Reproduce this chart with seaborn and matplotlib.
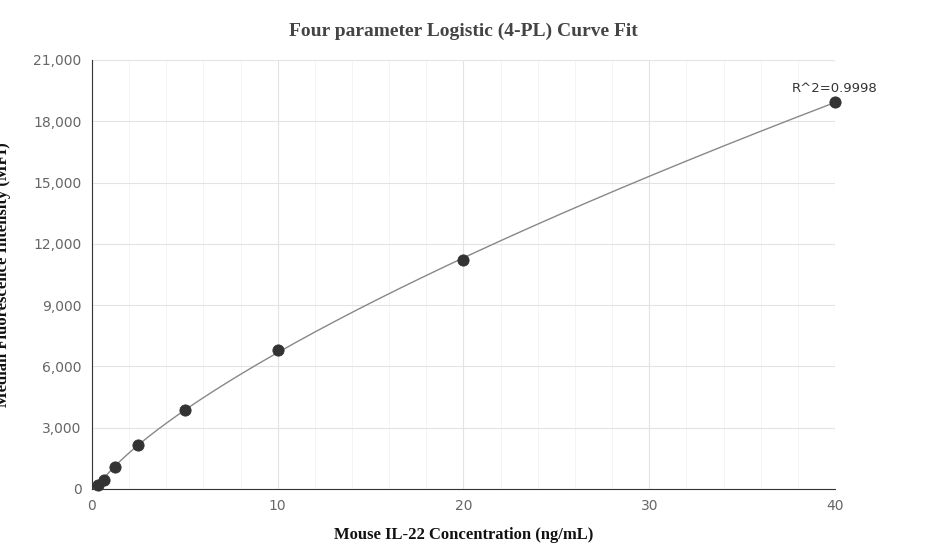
import numpy as np
import matplotlib
matplotlib.use("Agg")
import matplotlib.pyplot as plt
import seaborn as sns
import pandas as pd

conc = [0.3125, 0.625, 1.25, 2.5, 5, 10, 20, 40]
mfi = [200, 450, 1100, 2150, 3850, 6800, 11200, 18950]
yticks = [0, 3000, 6000, 9000, 12000, 15000, 18000, 21000]
xticks = [0, 10, 20, 30, 40]

x = np.array(conc, float); y = np.array(mfi, float)
best = None
for b in np.linspace(0.5, 1.5, 101):
    for c in np.logspace(0.5, 4, 200):
        f = 1.0 / (1 + (x / c) ** b)
        A = np.vstack([f, 1 - f]).T
        coef, *_ = np.linalg.lstsq(A, y, rcond=None)
        r = ((A @ coef - y) ** 2).sum()
        if best is None or r < best[0]:
            best = (r, b, c, coef)
_, b, c, (a, d) = best
xs = np.linspace(0.3125, 40, 400)
ys = d + (a - d) / (1 + (xs / c) ** b)

sns.set_style("white")
fig = plt.figure(figsize=(9.27, 5.6), dpi=100)
ax = fig.add_axes([0.0992, 0.1268, 0.8016, 0.7662])
ax.set_xticks(np.arange(0, 41, 2), minor=True)
ax.grid(True, which="major", color="#e3e3e3", lw=0.8)
ax.grid(True, which="minor", axis="x", color="#f3f3f3", lw=0.6)
ax.set_axisbelow(True)
sns.lineplot(x=xs, y=ys, ax=ax, color="#888888", lw=1)
sns.scatterplot(data=pd.DataFrame({"c": conc, "m": mfi}), x="c", y="m", ax=ax,
                color="#333333", s=65, edgecolor="#333333", zorder=3, clip_on=False)
ax.set_xlim(0, 40); ax.set_ylim(0, 21000)
ax.set_xticks(xticks); ax.set_yticks(yticks)
ax.set_yticklabels([f"{v:,}" for v in yticks])
for s in ["top", "right"]:
    ax.spines[s].set_visible(False)
for s in ["left", "bottom"]:
    ax.spines[s].set_color("#333333"); ax.spines[s].set_linewidth(0.8)
ax.tick_params(colors="#666666", labelsize=10, length=4)
ax.tick_params(which="minor", length=0)
serif = "Liberation Serif"
ax.set_xlabel("Mouse IL-22 Concentration (ng/mL)", family=serif, weight="bold", fontsize=12, color="#111111", labelpad=10)
ax.set_ylabel("Median Fluorescence Intensity (MFI)", family=serif, weight="bold", fontsize=12, color="#111111", labelpad=16)
fig.suptitle("Four parameter Logistic (4-PL) Curve Fit", family=serif, weight="bold", fontsize=14, color="#444444", y=0.96)
ax.annotate("R^2=0.9998", (conc[-1], mfi[-1]), xytext=(0, 5), textcoords="offset points",
            ha="center", va="bottom", fontsize=9.5, color="#333333", annotation_clip=False)
fig.savefig("out.png", dpi=100)
